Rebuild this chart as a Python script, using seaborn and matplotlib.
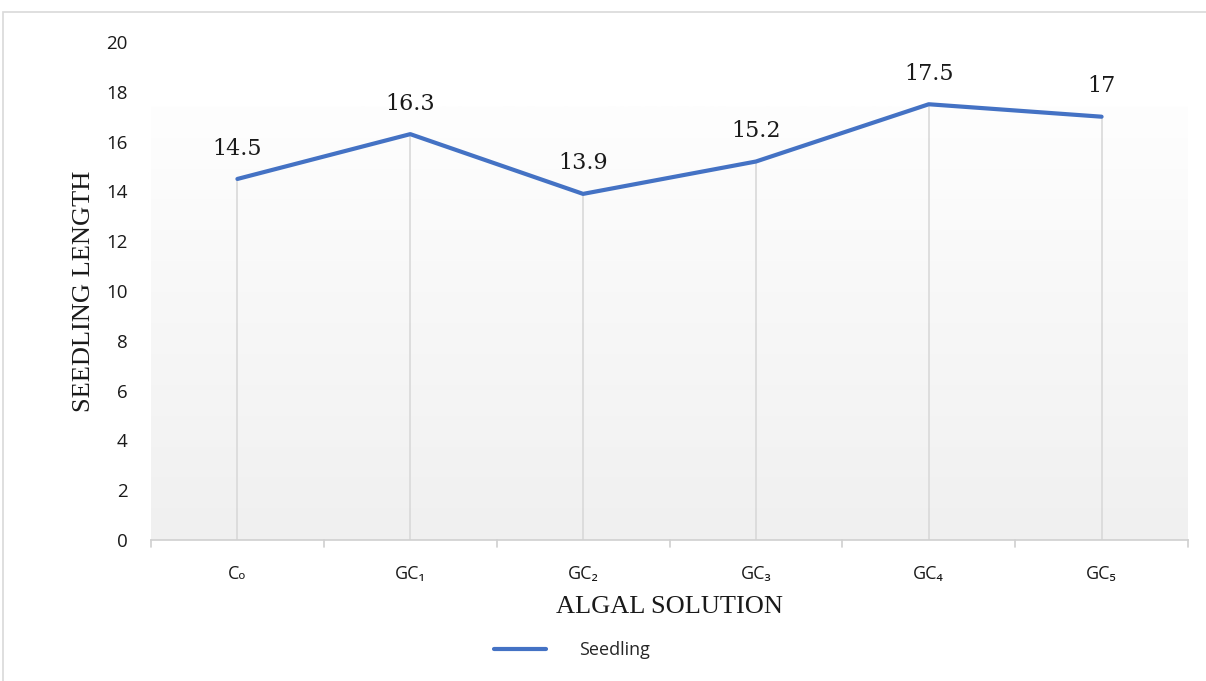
import numpy as np
import pandas as pd
import matplotlib
matplotlib.use("Agg")
import matplotlib.pyplot as plt
from matplotlib.patches import Rectangle
import seaborn as sns

# Seedling length per algal solution treatment
categories = ["C\u2092", "GC\u2081", "GC\u2082", "GC\u2083", "GC\u2084", "GC\u2085"]
seedling = [14.5, 16.3, 13.9, 15.2, 17.5, 17.0]
value_labels = ["14.5", "16.3", "13.9", "15.2", "17.5", "17"]
y_ticks = [0, 2, 4, 6, 8, 10, 12, 14, 16, 18, 20]

df = pd.DataFrame({"solution": categories, "length": seedling})

sns.set_theme(style="white")
plt.rcParams["font.family"] = ["Open Sans", "DejaVu Sans"]

fig = plt.figure(figsize=(12.06, 6.81), dpi=100)
ax = fig.add_axes([151 / 1206, 1 - 540 / 681, (1188 - 151) / 1206, (540 - 42) / 681])

# chart frame
fig.patches.append(Rectangle((3 / 1206, -0.1), 1.2, 1 - 12 / 681 + 0.1,
                             transform=fig.transFigure, fill=False,
                             edgecolor="#d9d9d9", lw=1.2, zorder=0))

# soft vertical gradient in the plot area: light grey at the bottom, white on top
grad = np.linspace(0, 1, 256).reshape(-1, 1)
ax.imshow(grad, extent=(0, 1, 0, 0.87), transform=ax.transAxes, aspect="auto",
          origin="lower",
          cmap=matplotlib.colors.LinearSegmentedColormap.from_list(
              "bg", ["#f0f0f0", "#fefefe"]), zorder=0)

x = np.arange(len(categories))
ax.vlines(x, 0, seedling, color="#d9d9d9", lw=1.2, zorder=1)

sns.lineplot(data=df, x="solution", y="length", ax=ax, color="#4472C4",
             lw=3.0, label="Seedling", sort=False, zorder=3)

for xi, v, txt in zip(x, seedling, value_labels):
    ax.annotate(txt, (xi, v), xytext=(0, 14), textcoords="offset points",
                ha="center", va="bottom", fontsize=16,
                family="DejaVu Serif", color="#1a1a1a")

ax.set_xlim(-0.5, len(categories) - 0.5)
ax.set_ylim(0, 20)
ax.set_yticks(y_ticks)
ax.set_yticklabels([str(t) for t in y_ticks], fontsize=13.5, color="#1a1a1a")
ax.set_xticks(x)
ax.set_xticklabels(categories, fontsize=13, color="#1a1a1a",
                   family=["Open Sans", "DejaVu Sans"])
ax.tick_params(axis="y", length=0, pad=17)
ax.tick_params(axis="x", length=0, pad=18)

# category boundary tick marks
for b in np.arange(-0.5, len(categories), 1.0):
    ax.plot([b, b], [0, -0.3], color="#d0d0d0", lw=1.2, clip_on=False, zorder=2)

for side in ["top", "right", "left"]:
    ax.spines[side].set_visible(False)
ax.spines["bottom"].set_color("#d0d0d0")
ax.spines["bottom"].set_linewidth(1.2)

ax.set_xlabel("ALGAL SOLUTION", fontsize=19, family="Liberation Serif",
              color="#1a1a1a")
ax.set_ylabel("SEEDLING LENGTH", fontsize=19, family="Liberation Serif",
              color="#1a1a1a")
ax.xaxis.set_label_coords(0.5, (540 - 596) / 498)
ax.yaxis.set_label_coords((95 - 151) / 1037, 0.5)

leg = ax.legend(loc="center", bbox_to_anchor=(572 / 1206, 1 - 650 / 681),
                bbox_transform=fig.transFigure, frameon=False, fontsize=13,
                handlelength=2.9, handletextpad=1.8)

fig.savefig("out.png", dpi=100, facecolor="white")
